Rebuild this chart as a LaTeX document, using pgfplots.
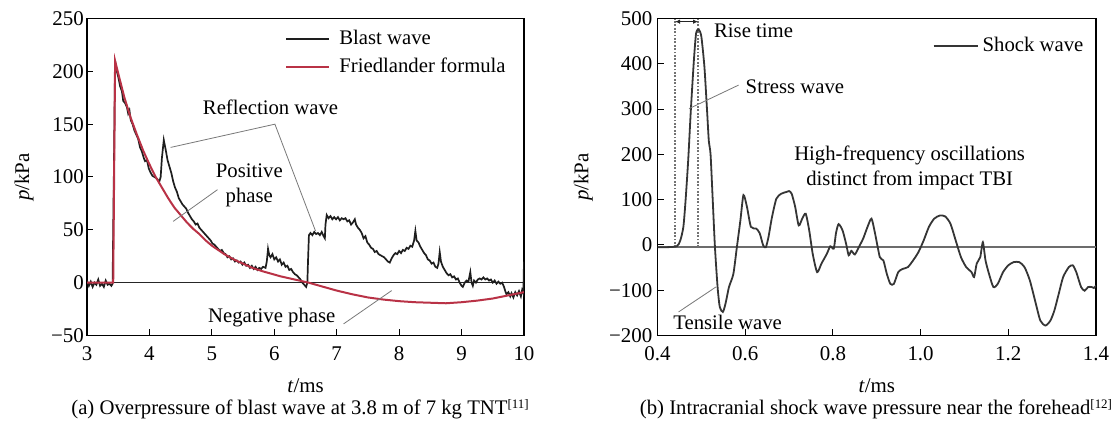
\documentclass[border=0pt]{standalone}
\usepackage{fontspec}
\setmainfont{Liberation Serif}
\usepackage{pgfplots}
\pgfplotsset{compat=1.18}
\usetikzlibrary{arrows.meta}
\definecolor{fried}{RGB}{185,50,70}
\definecolor{blast}{RGB}{30,30,30}
\definecolor{annot}{RGB}{120,120,120}
\tikzset{annline/.style={annot, line width=0.8bp}}
\pgfplotsset{
  myax/.style={
    scale only axis,
    clip mode=individual,
    axis line style={line width=1.3bp, black},
    tick style={line width=1bp, black},
    major tick length=6bp,
    tick align=inside,
    tick pos=left,
    ticklabel style={font=\fontsize{21}{24}\selectfont},
    label style={font=\fontsize{21}{24}\selectfont},
    xticklabel style={anchor=base, yshift=-24.5bp},
    xlabel={\textit{t}/ms},
    ylabel={\textit{p}/kPa},
    xlabel style={at={(axis description cs:0.5,-0.157)}, anchor=center},
    legend cell align=left,
  },
}
\begin{document}
\fontsize{20.8}{24}\selectfont
\begin{tikzpicture}
\path[use as bounding box] (0bp,0bp) rectangle (1114bp,424bp);

% ---------------- (a) ----------------
\begin{axis}[myax,
  at={(87bp,88.5bp)}, anchor=south west,
  width=437bp, height=317bp,
  xmin=3, xmax=10, ymin=-50, ymax=250,
  xtick={3,4,5,6,7,8,9,10},
  xticklabels={3,4,5,6,7,8,9,10},
  ytick={-50,0,50,100,150,200,250},
  yticklabels={−50,0,50,100,150,200,250},
  yticklabel style={inner xsep=3bp},
  ylabel style={at={(axis description cs:-0.144,0.5)}, anchor=center},
  legend style={draw=none, fill=none, at={(axis description cs:0.4535,0.8915)}, anchor=west,
    inner sep=0pt, nodes={inner sep=0pt}, row sep=10bp,
    font=\fontsize{20.8}{24}\selectfont,
    /tikz/every odd column/.append style={column sep=9bp}},
  legend image code/.code={\draw[#1] (0bp,0bp) -- (43bp,0bp);},
]
\addplot[black!85, line width=1bp, forget plot] coordinates {(3,0) (10,0)};
\addplot[blast, line width=1.7bp] coordinates {
(3.00,2) (3.03,-3) (3.06,1) (3.09,-4) (3.12,0) (3.15,-2) (3.18,3) (3.21,-3) (3.24,-1) (3.27,-4) (3.30,2) (3.33,-2) (3.36,-1) (3.39,-3) (3.41,-1)
(3.43,100) (3.45,210)
(3.47,202) (3.50,195) (3.53,186) (3.56,181) (3.58,172) (3.61,170) (3.64,166) (3.66,160) (3.68,163) (3.70,154) (3.73,150) (3.76,144) (3.79,140) (3.82,136) (3.85,128) (3.88,124) (3.91,118) (3.93,115) (3.96,116) (3.99,108) (4.02,104) (4.05,101) (4.08,100) (4.11,99) (4.14,97) (4.16,96) (4.18,100) (4.20,118) (4.23,135) (4.26,126) (4.29,116) (4.32,110) (4.35,104) (4.38,96) (4.41,90) (4.44,86) (4.47,80) (4.50,77) (4.53,74) (4.56,72) (4.59,70) (4.62,66) (4.65,63) (4.68,60) (4.71,58) (4.74,55) (4.77,56) (4.80,52) (4.83,50) (4.86,48) (4.89,46) (4.92,44) (4.95,42) (4.98,40) (5.01,37) (5.04,36) (5.07,34) (5.10,32) (5.13,30) (5.16,31) (5.19,28) (5.22,27) (5.25,24) (5.28,25) (5.31,22) (5.34,23) (5.37,20) (5.40,21) (5.43,19) (5.46,20) (5.49,17) (5.52,19) (5.55,16) (5.58,17) (5.61,14) (5.64,16) (5.67,13) (5.70,15) (5.73,12) (5.76,14) (5.79,13) (5.82,15) (5.86,14) (5.88,20) (5.90,32) (5.92,26) (5.94,24) (5.97,27) (6.00,22) (6.03,24) (6.06,20) (6.09,22) (6.12,17) (6.15,19) (6.18,15) (6.21,16) (6.24,12) (6.27,13) (6.30,10) (6.33,8) (6.36,7) (6.39,5) (6.42,3) (6.45,0) (6.48,-2) (6.51,-4) (6.53,0) (6.54,20) (6.555,45) (6.58,47) (6.61,45) (6.64,48) (6.67,46) (6.70,47) (6.73,45) (6.76,48) (6.79,44) (6.81,42) (6.82,55) (6.84,64) (6.87,61) (6.90,63) (6.93,60) (6.96,62) (6.99,60) (7.02,62) (7.05,59) (7.08,61) (7.11,60) (7.14,61) (7.17,58) (7.20,59) (7.23,55) (7.26,57) (7.29,60) (7.31,55) (7.34,52) (7.37,50) (7.40,47) (7.43,42) (7.46,44) (7.49,38) (7.52,36) (7.55,33) (7.58,32) (7.61,29) (7.64,30) (7.67,27) (7.70,26) (7.73,25) (7.76,24) (7.79,22) (7.82,20) (7.85,19) (7.88,23) (7.91,26) (7.94,28) (7.97,27) (8.00,30) (8.03,28) (8.06,31) (8.09,30) (8.12,33) (8.15,32) (8.18,35) (8.21,34) (8.24,40) (8.26,49) (8.28,40) (8.31,38) (8.34,34) (8.37,31) (8.40,28) (8.43,26) (8.46,22) (8.49,21) (8.52,18) (8.55,19) (8.58,15) (8.61,14) (8.63,18) (8.65,29) (8.67,20) (8.70,15) (8.73,12) (8.76,9) (8.79,7) (8.82,8) (8.85,5) (8.88,6) (8.91,3) (8.94,4) (8.97,0) (9.00,-3) (9.02,-4) (9.05,0) (9.08,2) (9.11,1) (9.14,10) (9.16,0) (9.18,-3) (9.20,2) (9.23,0) (9.26,3) (9.29,4) (9.32,3) (9.35,5) (9.38,3) (9.41,4) (9.44,2) (9.47,3) (9.50,0) (9.53,2) (9.56,-1) (9.59,1) (9.62,-1) (9.65,0) (9.68,-4) (9.70,-8) (9.72,-11) (9.75,-9) (9.78,-13) (9.80,-10) (9.83,-14) (9.86,-9) (9.89,-12) (9.92,-8) (9.95,-13) (9.97,-7) (9.99,-10) (10.00,20)
};
\addlegendentry{Blast wave}
\addplot[fried, line width=2bp] coordinates {
(3.0,0) (3.42,0) (3.45,210) (3.5,198) (3.6,175) (3.7,156) (3.8,140) (3.9,125) (4.0,112) (4.1,100) (4.2,90) (4.3,80) (4.4,71) (4.5,64) (4.6,57) (4.7,51) (4.8,46) (4.9,40) (5.0,35) (5.1,31) (5.2,27) (5.35,22) (5.5,18) (5.65,14) (5.8,11) (5.95,8.5) (6.1,6) (6.25,4) (6.4,2) (6.55,0) (6.7,-2.5) (6.85,-5) (7.0,-7.5) (7.25,-11) (7.5,-14) (7.75,-16) (8.0,-17.5) (8.25,-18.5) (8.5,-19) (8.75,-19.5) (9.0,-18.5) (9.25,-17) (9.5,-15) (9.75,-12) (10.0,-9)
};
\addlegendentry{Friedlander formula}
\draw[annline] (axis cs:4.34,128) -- (axis cs:6.01,150) -- (axis cs:6.66,49);
\node at (axis cs:5.94,166) {Reflection wave};
\node[align=center] at (axis cs:5.6,92.5) {Positive\\[1bp]phase};
\draw[annline] (axis cs:5.09,88) -- (axis cs:4.38,58);
\node at (axis cs:5.96,-33) {Negative phase};
\draw[annline] (axis cs:7.11,-39) -- (axis cs:7.88,-7.5);
\end{axis}

% ---------------- (b) ----------------
\begin{axis}[myax,
  at={(657.5bp,88.5bp)}, anchor=south west,
  width=438.5bp, height=317bp,
  xmin=0.4, xmax=1.4, ymin=-200, ymax=500,
  xtick={0.4,0.6,0.8,1.0,1.2,1.4},
  xticklabels={0.4,0.6,0.8,1.0,1.2,1.4},
  ytick={-200,-100,0,100,200,300,400,500},
  yticklabels={−200,−100,0,100,200,300,400,500},
  yticklabel style={inner xsep=5bp},
  ylabel style={at={(axis description cs:-0.169,0.5)}, anchor=center},
  legend style={draw=none, fill=none, at={(axis description cs:0.6274,0.913)}, anchor=west,
    inner sep=0pt, nodes={inner sep=0pt},
    font=\fontsize{20.8}{24}\selectfont,
    /tikz/every odd column/.append style={column sep=4bp}},
  legend image code/.code={\draw[#1] (0bp,0bp) -- (44bp,0bp);},
]
\addplot[annot!90!black, line width=1.6bp, forget plot] coordinates {(0.4,-5) (1.4,-5)};
\addplot[black!55, dash pattern=on 1.8bp off 1.6bp, line width=1.8bp, forget plot] coordinates {(0.44,-5) (0.44,500)};
\addplot[black!55, dash pattern=on 1.8bp off 1.6bp, line width=1.8bp, forget plot] coordinates {(0.4925,-5) (0.4925,500)};
\addplot[black!85, line width=1.5bp, {Latex[length=5bp,width=4.5bp]}-{Latex[length=5bp,width=4.5bp]}, forget plot] coordinates {(0.44,493) (0.4925,493)};
\addplot[blast!90!white, line width=1.8bp, smooth, tension=0.4] coordinates {
(0.400,-5) (0.420,-5) (0.444,-3) (0.452,10) (0.459,40) (0.464,98) (0.470,187) (0.476,297) (0.483,408) (0.488,467) (0.494,476) (0.500,460) (0.507,393) (0.513,297) (0.517,230) (0.521,200) (0.526,98) (0.531,-5) (0.537,-93) (0.542,-137) (0.549,-148) (0.555,-130) (0.563,-93) (0.573,-64) (0.581,-5) (0.589,54) (0.596,110) (0.604,84) (0.613,40) (0.625,36) (0.633,26) (0.641,-1) (0.647,-5) (0.653,17) (0.661,61) (0.671,102) (0.682,113) (0.694,117) (0.700,119) (0.706,113) (0.714,84) (0.722,43) (0.730,58) (0.738,69) (0.746,32) (0.754,-20) (0.764,-60) (0.774,-41) (0.786,-20) (0.794,-3) (0.802,-8) (0.807,26) (0.813,46) (0.822,32) (0.830,3) (0.836,-23) (0.842,-13) (0.850,-21) (0.859,-5) (0.869,14) (0.879,40) (0.888,58) (0.896,26) (0.907,-27) (0.915,-34) (0.923,-64) (0.931,-86) (0.939,-86) (0.949,-60) (0.959,-53) (0.971,-49) (0.983,-34) (0.995,-16) (1.007,10) (1.019,40) (1.031,58) (1.044,65) (1.056,63) (1.068,47) (1.080,10) (1.092,-27) (1.104,-49) (1.116,-60) (1.122,-71) (1.128,-41) (1.136,-27) (1.142,6) (1.148,-34) (1.156,-64) (1.166,-93) (1.176,-86) (1.188,-60) (1.200,-45) (1.212,-38) (1.225,-38) (1.237,-49) (1.249,-78) (1.261,-123) (1.273,-167) (1.285,-178) (1.296,-167) (1.305,-145) (1.315,-108) (1.325,-71) (1.338,-49) (1.347,-45) (1.355,-60) (1.366,-93) (1.374,-101) (1.382,-93) (1.390,-93) (1.395,-95) (1.400,-90)
};
\addlegendentry{Shock wave}
\node[anchor=west] at (axis cs:0.513,473) {Rise time};
\node[anchor=west] at (axis cs:0.585,349) {Stress wave};
\draw[annline] (axis cs:0.585,353) -- (axis cs:0.472,301);
\node[align=center] at (axis cs:0.975,170.5) {High-frequency oscillations\\[1bp]distinct from impact TBI};
\node[anchor=west] at (axis cs:0.42,-170) {Tensile wave};
\draw[annline] (axis cs:0.448,-148) -- (axis cs:0.533,-93);
\end{axis}

\node at (300bp,15bp) {\fontsize{20.8}{24}\selectfont(a) Overpressure of blast wave at 3.8 m of 7 kg TNT\raisebox{0.6ex}{\fontsize{13}{13}\selectfont[11]}};
\node at (876bp,15bp) {\fontsize{20.8}{24}\selectfont(b) Intracranial shock wave pressure near the forehead\raisebox{0.6ex}{\fontsize{13}{13}\selectfont[12]}};
\end{tikzpicture}
\end{document}
